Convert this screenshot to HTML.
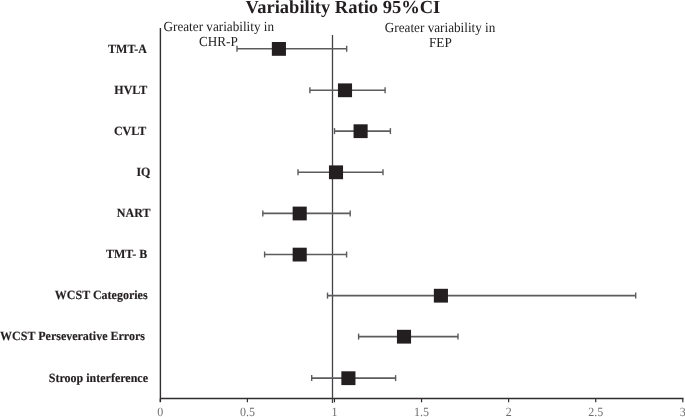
<!DOCTYPE html>
<html><head><meta charset="utf-8"><style>
html,body{margin:0;padding:0;background:#fff;}
body{width:685px;height:417px;overflow:hidden;position:relative;}
svg{position:absolute;left:0;top:0;will-change:transform;}
text{font-family:"Liberation Serif",serif;text-rendering:geometricPrecision;}
.lab{font-weight:bold;font-size:12px;fill:#231f20;stroke:#231f20;stroke-width:0.15px;}
.tick{font-size:12px;fill:#6e6e6e;}
.title{font-weight:bold;font-size:18.5px;fill:#231f20;}
.ann{font-size:13.2px;fill:#222;}
</style></head><body>
<svg width="685" height="417" viewBox="0 0 685 417">
<line x1="160.4" y1="28" x2="160.4" y2="402" stroke="#322e30" stroke-width="1.4"/>
<line x1="160" y1="398.5" x2="683.5" y2="398.5" stroke="#322e30" stroke-width="1.4"/>
<line x1="160.30" y1="398.5" x2="160.30" y2="402.3" stroke="#322e30" stroke-width="1.2"/>
<line x1="247.38" y1="398.5" x2="247.38" y2="402.3" stroke="#322e30" stroke-width="1.2"/>
<line x1="334.47" y1="398.5" x2="334.47" y2="402.3" stroke="#322e30" stroke-width="1.2"/>
<line x1="421.56" y1="398.5" x2="421.56" y2="402.3" stroke="#322e30" stroke-width="1.2"/>
<line x1="508.64" y1="398.5" x2="508.64" y2="402.3" stroke="#322e30" stroke-width="1.2"/>
<line x1="595.72" y1="398.5" x2="595.72" y2="402.3" stroke="#322e30" stroke-width="1.2"/>
<line x1="682.81" y1="398.5" x2="682.81" y2="402.3" stroke="#322e30" stroke-width="1.2"/>
<line x1="332.5" y1="35" x2="332.5" y2="403" stroke="#444246" stroke-width="1.3"/>
<line x1="237.0" y1="48.8" x2="346.7" y2="48.8" stroke="#5c5c5f" stroke-width="1.6"/>
<line x1="237.0" y1="45.8" x2="237.0" y2="51.8" stroke="#5c5c5f" stroke-width="1.4"/>
<line x1="346.7" y1="45.8" x2="346.7" y2="51.8" stroke="#5c5c5f" stroke-width="1.4"/>
<rect x="271.85" y="42.00" width="14.1" height="13.8" fill="#231f20"/>
<text transform="translate(108.1,52.5) scale(1,1.05)" class="lab">TMT-A</text>
<line x1="309.9" y1="90.2" x2="385.1" y2="90.2" stroke="#5c5c5f" stroke-width="1.6"/>
<line x1="309.9" y1="87.2" x2="309.9" y2="93.2" stroke="#5c5c5f" stroke-width="1.4"/>
<line x1="385.1" y1="87.2" x2="385.1" y2="93.2" stroke="#5c5c5f" stroke-width="1.4"/>
<rect x="337.95" y="83.40" width="14.1" height="13.8" fill="#231f20"/>
<text transform="translate(114.3,93.9) scale(1,1.05)" class="lab">HVLT</text>
<line x1="334.5" y1="131.1" x2="390.4" y2="131.1" stroke="#5c5c5f" stroke-width="1.6"/>
<line x1="334.5" y1="128.1" x2="334.5" y2="134.1" stroke="#5c5c5f" stroke-width="1.4"/>
<line x1="390.4" y1="128.1" x2="390.4" y2="134.1" stroke="#5c5c5f" stroke-width="1.4"/>
<rect x="353.55" y="124.30" width="14.1" height="13.8" fill="#231f20"/>
<text transform="translate(113.9,134.8) scale(1,1.05)" class="lab">CVLT</text>
<line x1="298.0" y1="172.2" x2="383.0" y2="172.2" stroke="#5c5c5f" stroke-width="1.6"/>
<line x1="298.0" y1="169.2" x2="298.0" y2="175.2" stroke="#5c5c5f" stroke-width="1.4"/>
<line x1="383.0" y1="169.2" x2="383.0" y2="175.2" stroke="#5c5c5f" stroke-width="1.4"/>
<rect x="328.95" y="165.40" width="14.1" height="13.8" fill="#231f20"/>
<text transform="translate(136.4,175.9) scale(1,1.05)" class="lab">IQ</text>
<line x1="262.8" y1="213.4" x2="350.2" y2="213.4" stroke="#5c5c5f" stroke-width="1.6"/>
<line x1="262.8" y1="210.4" x2="262.8" y2="216.4" stroke="#5c5c5f" stroke-width="1.4"/>
<line x1="350.2" y1="210.4" x2="350.2" y2="216.4" stroke="#5c5c5f" stroke-width="1.4"/>
<rect x="292.65" y="206.60" width="14.1" height="13.8" fill="#231f20"/>
<text transform="translate(116.8,217.1) scale(1,1.05)" class="lab">NART</text>
<line x1="264.6" y1="254.5" x2="346.6" y2="254.5" stroke="#5c5c5f" stroke-width="1.6"/>
<line x1="264.6" y1="251.5" x2="264.6" y2="257.5" stroke="#5c5c5f" stroke-width="1.4"/>
<line x1="346.6" y1="251.5" x2="346.6" y2="257.5" stroke="#5c5c5f" stroke-width="1.4"/>
<rect x="292.65" y="247.70" width="14.1" height="13.8" fill="#231f20"/>
<text transform="translate(105.9,258.2) scale(1,1.05)" class="lab">TMT- B</text>
<line x1="327.5" y1="295.6" x2="635.7" y2="295.6" stroke="#5c5c5f" stroke-width="1.6"/>
<line x1="327.5" y1="292.6" x2="327.5" y2="298.6" stroke="#5c5c5f" stroke-width="1.4"/>
<line x1="635.7" y1="292.6" x2="635.7" y2="298.6" stroke="#5c5c5f" stroke-width="1.4"/>
<rect x="433.85" y="288.80" width="14.1" height="13.8" fill="#231f20"/>
<text transform="translate(54.8,299.3) scale(1,1.05)" class="lab">WCST Categories</text>
<line x1="358.6" y1="336.6" x2="458.0" y2="336.6" stroke="#5c5c5f" stroke-width="1.6"/>
<line x1="358.6" y1="333.6" x2="358.6" y2="339.6" stroke="#5c5c5f" stroke-width="1.4"/>
<line x1="458.0" y1="333.6" x2="458.0" y2="339.6" stroke="#5c5c5f" stroke-width="1.4"/>
<rect x="396.95" y="329.80" width="14.1" height="13.8" fill="#231f20"/>
<text transform="translate(0.1,340.3) scale(1,1.05)" class="lab">WCST Perseverative Errors</text>
<line x1="311.7" y1="378.1" x2="395.6" y2="378.1" stroke="#5c5c5f" stroke-width="1.6"/>
<line x1="311.7" y1="375.1" x2="311.7" y2="381.1" stroke="#5c5c5f" stroke-width="1.4"/>
<line x1="395.6" y1="375.1" x2="395.6" y2="381.1" stroke="#5c5c5f" stroke-width="1.4"/>
<rect x="341.35" y="371.30" width="14.1" height="13.8" fill="#231f20"/>
<text transform="translate(48.8,381.8) scale(1,1.05)" class="lab">Stroop interference</text>
<text transform="translate(160.3,416) scale(1,1.05)" class="tick" text-anchor="middle">0</text>
<text transform="translate(247.38,416) scale(1,1.05)" class="tick" text-anchor="middle">0.5</text>
<text transform="translate(334.47,416) scale(1,1.05)" class="tick" text-anchor="middle">1</text>
<text transform="translate(421.56,416) scale(1,1.05)" class="tick" text-anchor="middle">1.5</text>
<text transform="translate(508.64,416) scale(1,1.05)" class="tick" text-anchor="middle">2</text>
<text transform="translate(595.72,416) scale(1,1.05)" class="tick" text-anchor="middle">2.5</text>
<text transform="translate(682.81,416) scale(1,1.05)" class="tick" text-anchor="middle">3</text>
<text transform="translate(245.6,13.35) scale(1,1.0)" class="title">Variability Ratio 95%CI</text>
<text transform="translate(163.5,30.7) scale(1,1.05)" class="ann">Greater variability in</text>
<text transform="translate(199.0,46.3) scale(1,1.05)" class="ann">CHR-P</text>
<text transform="translate(384.8,31.9) scale(1,1.05)" class="ann">Greater variability in</text>
<text transform="translate(429.0,46.9) scale(1,1.05)" class="ann">FEP</text>
</svg>
</body></html>
